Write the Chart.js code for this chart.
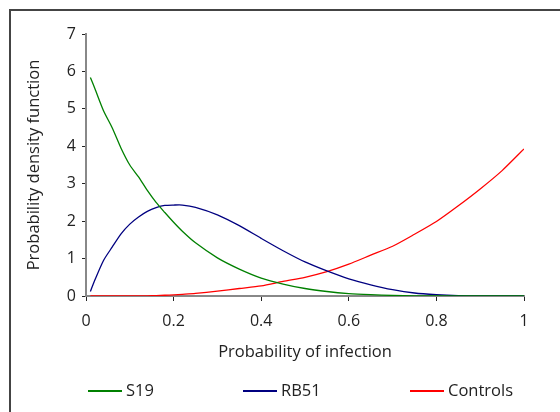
<!DOCTYPE html>
<html lang="en">
<head>
    <meta charset="UTF-8">
    <title>Probability density function</title>
    <script src="https://cdn.jsdelivr.net/npm/chart.js"></script>
    <style>
        body { margin: 0; background: #fff; font-family: 'Open Sans', sans-serif; }
        .wrap { position: relative; width: 560px; height: 412px; overflow: hidden; }
        .frame { position: absolute; left: 9px; top: 9px; width: 600px; height: 500px; border: 2px solid #444; box-sizing: border-box; }
        canvas { position: absolute; left: 0; top: 0; }
        .legend { position: absolute; top: 379px; left: 0; width: 560px; height: 22px; font-size: 16.5px; line-height: 22px; color: #222; }
        .legend span { position: absolute; top: 0; }
        .legend i { position: absolute; top: 11px; left: 0; width: 34px; height: 2px; }
        .legend b { font-weight: normal; margin-left: 38px; }
    </style>
</head>
<body>
<div class="wrap">
    <div class="frame"></div>
    <canvas id="pdfChart" width="560" height="412"></canvas>
    <div class="legend">
        <span style="left:88px"><i style="background:#008000"></i><b>S19</b></span>
        <span style="left:243px"><i style="background:#000080"></i><b>RB51</b></span>
        <span style="left:410px"><i style="background:#ff0000"></i><b>Controls</b></span>
    </div>
</div>
<script>
    // values
    const xValues = [0.01, 0.02, 0.04, 0.06, 0.08, 0.10, 0.12, 0.14, 0.16, 0.18, 0.20, 0.22, 0.25,
        0.30, 0.35, 0.40, 0.45, 0.50, 0.55, 0.60, 0.65, 0.70, 0.75, 0.80, 0.85, 0.90, 0.95, 1.00];
    const s19 = [5.84, 5.55, 4.95, 4.49, 3.95, 3.50, 3.18, 2.82, 2.50, 2.23, 1.97, 1.73, 1.42,
        1.02, 0.72, 0.48, 0.32, 0.20, 0.12, 0.065, 0.035, 0.015, 0.006, 0.002, 0, 0, 0, 0];
    const rb51 = [0.12, 0.42, 0.95, 1.31, 1.66, 1.92, 2.11, 2.26, 2.36, 2.42, 2.43, 2.43, 2.37,
        2.17, 1.88, 1.54, 1.21, 0.91, 0.67, 0.46, 0.30, 0.17, 0.08, 0.035, 0.01, 0.002, 0, 0];
    const controls = [0, 0, 0, 0, 0, 0, 0.002, 0.005, 0.01, 0.02, 0.03, 0.045, 0.07,
        0.13, 0.20, 0.27, 0.39, 0.50, 0.65, 0.85, 1.09, 1.33, 1.65, 1.99, 2.41, 2.86, 3.35, 3.93];
    const xTicks = [0, 0.2, 0.4, 0.6, 0.8, 1];
    const yTicks = [0, 1, 2, 3, 4, 5, 6, 7];

    const tickFont = { family: 'Open Sans', size: 16 };
    const titleFont = { family: 'Open Sans', size: 16.5 };

    function series(label, values, color) {
        return {
            label: label,
            data: xValues.map((x, i) => ({ x: x, y: values[i] })),
            borderColor: color,
            borderWidth: 1.3,
            pointRadius: 0,
            tension: 0.25,
            fill: false
        };
    }

    new Chart(document.getElementById('pdfChart'), {
        type: 'line',
        data: {
            datasets: [
                series('S19', s19, '#008000'),
                series('RB51', rb51, '#000080'),
                series('Controls', controls, '#ff0000')
            ]
        },
        options: {
            responsive: false,
            animation: false,
            layout: { padding: { left: 20, top: 34, right: 36, bottom: 46 } },
            plugins: { legend: { display: false }, tooltip: { enabled: false } },
            scales: {
                x: {
                    type: 'linear',
                    min: 0, max: 1,
                    afterBuildTicks: s => { s.ticks = xTicks.map(v => ({ value: v })); },
                    afterFit: s => { s.height = 70; },
                    ticks: { font: tickFont, color: '#222', padding: 11, maxRotation: 0, callback: v => String(v) },
                    grid: { drawOnChartArea: false, tickLength: 5, color: '#222' },
                    border: { color: '#888', width: 2 },
                    title: { display: true, text: 'Probability of infection', font: titleFont, color: '#222', padding: { top: 3 } }
                },
                y: {
                    min: 0, max: 7,
                    afterBuildTicks: s => { s.ticks = yTicks.map(v => ({ value: v })); },
                    afterFit: s => { s.width = 66; },
                    ticks: { font: tickFont, color: '#222', padding: 6, callback: v => String(v) },
                    grid: { drawOnChartArea: false, tickLength: 4, color: '#222' },
                    border: { color: '#888', width: 2 },
                    title: { display: true, text: 'Probability density function', font: titleFont, color: '#222' }
                }
            }
        }
    });
</script>
</body>
</html>
